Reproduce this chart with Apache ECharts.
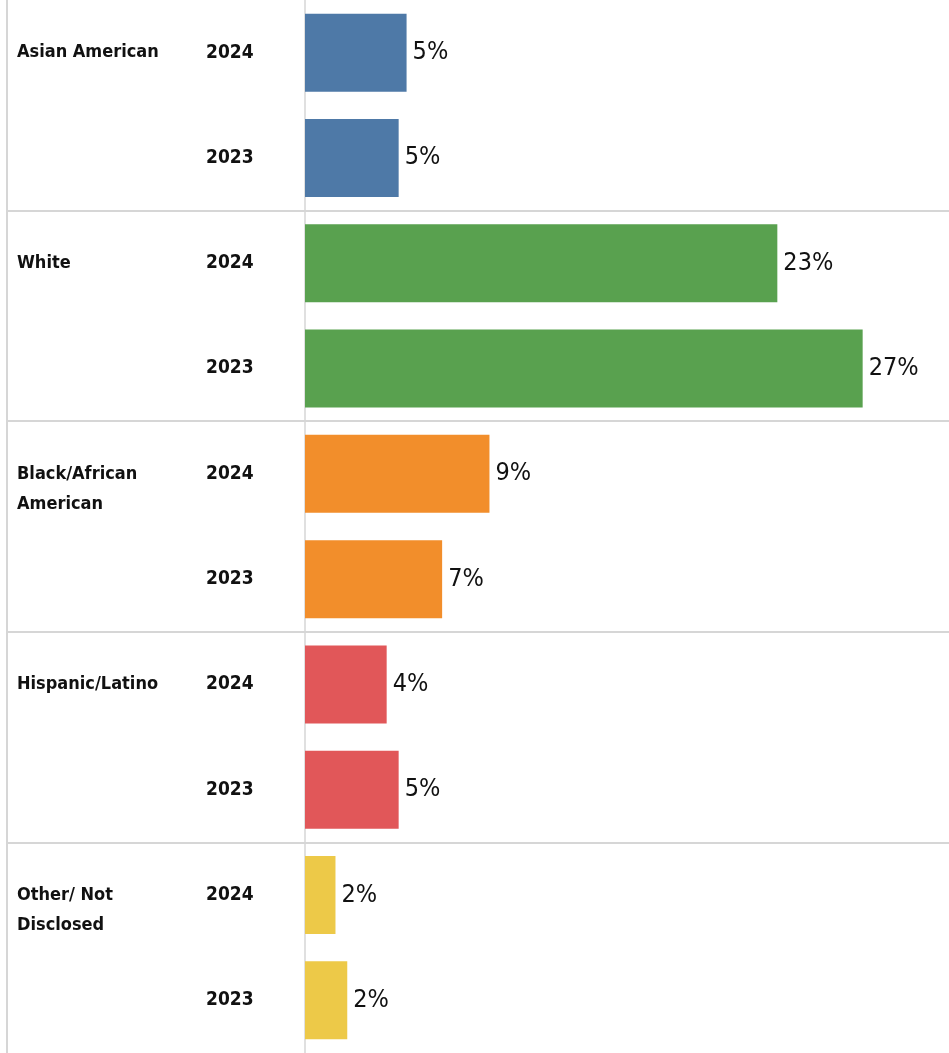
<!DOCTYPE html>
<html><head><meta charset="utf-8">
<script src="https://cdn.jsdelivr.net/npm/echarts@6/dist/echarts.min.js"></script>
<style>html,body{margin:0;padding:0;background:#fff}#c{width:949px;height:1053px}</style>
</head><body><div id="c"></div>
<script>
const groups = ['Asian American', 'White', 'Black/African\nAmerican', 'Hispanic/Latino', 'Other/ Not\nDisclosed'];
const years = ['2024', '2023'];
const values2024 = [5.0, 23.25, 9.08, 4.02, 1.5];
const values2023 = [4.61, 27.45, 6.75, 4.61, 2.08];
const colors = ['#4e79a7', '#59a14f', '#f28e2b', '#e15759', '#edc948'];

const FONT = "'DejaVu Sans Condensed', 'Liberation Sans', sans-serif";
const rowKeys = [];
const barData = [];
groups.forEach((g, i) => {
  const vals = [values2024[i], values2023[i]];
  years.forEach((y, j) => {
    rowKeys.push(i + '|' + y);
    barData.push({ value: vals[j], itemStyle: { color: colors[i] } });
  });
});
const lineColor = '#d6d6d6';
const sepColors = groups.slice(1).map(() => lineColor).concat(['#ffffff']);
const chart = echarts.init(document.getElementById('c'), null, { renderer: 'canvas' });
chart.setOption({
  animation: false,
  backgroundColor: '#fff',
  grid: [
    { left: 7, right: 0, top: 0, height: 1054, containLabel: false },
    { left: 305, right: 0, top: 0, height: 1054, containLabel: false }
  ],
  xAxis: [
    { gridIndex: 0, type: 'value', min: 0, max: 1, show: false },
    { gridIndex: 1, type: 'value', min: 0, max: 31.7, show: false }
  ],
  yAxis: [
    {
      gridIndex: 0, type: 'category', inverse: true, data: groups,
      axisLine: { show: true, lineStyle: { color: lineColor, width: 2 } },
      axisTick: { show: false }, axisLabel: { show: false },
      splitLine: { show: true, interval: (i) => i > 0 && i < groups.length, lineStyle: { color: sepColors, width: 2 } }
    },
    {
      gridIndex: 1, type: 'category', inverse: true, data: rowKeys, position: 'left', offset: 0,
      axisLine: { show: true, lineStyle: { color: lineColor, width: 1.5 } },
      axisTick: { show: false }, splitLine: { show: false },
      axisLabel: {
        show: true, align: 'left', margin: 99, interval: 0,
        fontFamily: FONT, fontWeight: 'bold', fontSize: 19, color: '#111',
        formatter: (v) => v.split('|')[1]
      }
    },
    {
      gridIndex: 1, type: 'category', inverse: true, data: rowKeys, position: 'left', offset: 0,
      axisLine: { show: false }, axisTick: { show: false }, splitLine: { show: false },
      axisLabel: {
        show: true, align: 'left', margin: 288, interval: 0, lineHeight: 30,
        fontFamily: FONT, fontWeight: 'bold', fontSize: 18, color: '#111',
        formatter: (v) => {
          const [gi, y] = v.split('|');
          if (y !== years[0]) return '';
          const name = groups[+gi];
          return name.indexOf('\n') >= 0 ? '\n' + name : name;
        }
      }
    }
  ],
  series: [{
    type: 'bar', xAxisIndex: 1, yAxisIndex: 1, barWidth: 78,
    data: barData,
    label: {
      show: true, position: 'right', distance: 6,
      fontFamily: FONT, fontSize: 25, color: '#111',
      formatter: (p) => Math.round(p.value) + '%'
    }
  }]
});
</script></body></html>
